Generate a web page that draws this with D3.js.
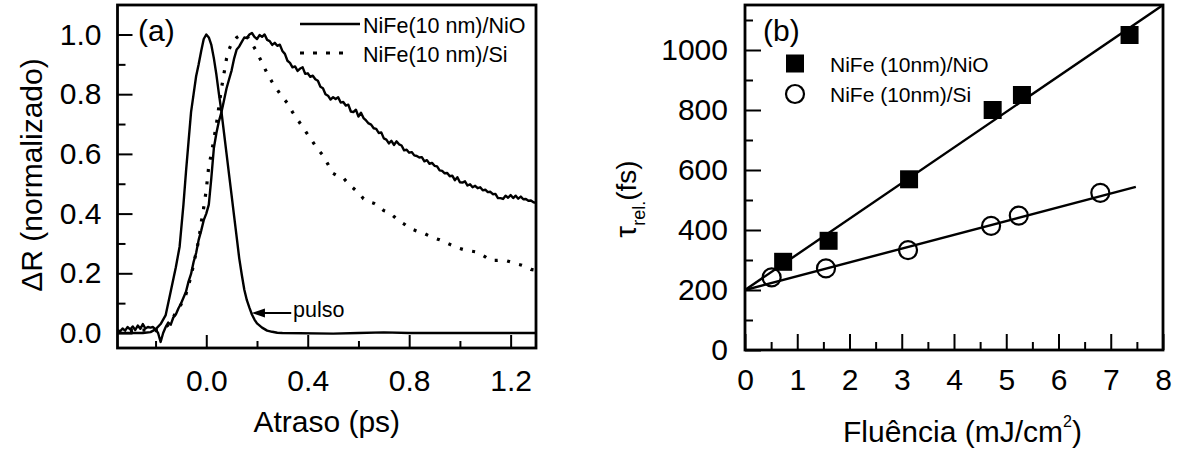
<!DOCTYPE html>
<html><head><meta charset="utf-8">
<script src="https://cdn.jsdelivr.net/npm/d3@7"></script>
<style>body{margin:0;background:#fff}svg{display:block}text{font-family:"Liberation Sans",Arial,Helvetica,sans-serif;fill:#000}</style>
</head><body><svg id="c" width="1186" height="453"></svg>
<script>
// ---------- Panel (a) data: delay (ps), normalized ΔR ----------
const nioCurve = [[-0.35,0.010],[-0.34,0.005],[-0.33,0.015],[-0.32,0.008],[-0.31,0.020],[-0.30,0.012],[-0.29,0.022],[-0.28,0.010],[-0.27,0.025],[-0.26,0.014],[-0.25,0.030],[-0.24,0.015],[-0.23,0.020],[-0.22,0.018],[-0.21,0.020],[-0.20,0.012],[-0.19,0.000],[-0.18,-0.030],[-0.17,0.000],[-0.16,0.020],[-0.15,0.035],[-0.14,0.028],[-0.13,0.052],[-0.12,0.062],[-0.11,0.082],[-0.10,0.098],[-0.09,0.118],[-0.08,0.138],[-0.07,0.172],[-0.06,0.198],[-0.05,0.238],[-0.04,0.268],[-0.03,0.312],[-0.02,0.343],[-0.01,0.378],[0.00,0.400],[0.01,0.430],[0.02,0.520],[0.03,0.620],[0.04,0.670],[0.05,0.710],[0.06,0.740],[0.07,0.780],[0.08,0.820],[0.09,0.850],[0.10,0.880],[0.11,0.920],[0.12,0.950],[0.13,0.960],[0.14,0.975],[0.15,0.990],[0.16,0.988],[0.17,1.000],[0.18,1.005],[0.19,0.992],[0.20,0.985],[0.21,0.998],[0.22,0.992],[0.23,1.000],[0.24,0.982],[0.25,0.978],[0.26,0.965],[0.27,0.972],[0.28,0.962],[0.29,0.966],[0.30,0.945],[0.31,0.935],[0.32,0.912],[0.33,0.905],[0.34,0.890],[0.35,0.893],[0.36,0.878],[0.37,0.886],[0.38,0.890],[0.39,0.868],[0.40,0.870],[0.41,0.858],[0.42,0.862],[0.43,0.850],[0.44,0.845],[0.45,0.825],[0.46,0.820],[0.47,0.800],[0.48,0.795],[0.49,0.782],[0.50,0.790],[0.51,0.784],[0.52,0.790],[0.53,0.772],[0.54,0.774],[0.55,0.762],[0.56,0.765],[0.57,0.742],[0.58,0.740],[0.59,0.748],[0.60,0.725],[0.61,0.738],[0.62,0.720],[0.63,0.712],[0.64,0.702],[0.65,0.698],[0.66,0.686],[0.67,0.684],[0.68,0.670],[0.69,0.672],[0.70,0.652],[0.71,0.648],[0.72,0.635],[0.73,0.644],[0.74,0.630],[0.75,0.642],[0.76,0.632],[0.77,0.628],[0.78,0.612],[0.79,0.614],[0.80,0.604],[0.81,0.606],[0.82,0.595],[0.83,0.593],[0.84,0.588],[0.85,0.589],[0.86,0.575],[0.87,0.579],[0.88,0.567],[0.89,0.570],[0.90,0.560],[0.91,0.558],[0.92,0.545],[0.93,0.543],[0.94,0.535],[0.95,0.536],[0.96,0.525],[0.97,0.527],[0.98,0.512],[0.99,0.522],[1.00,0.505],[1.01,0.504],[1.02,0.508],[1.03,0.494],[1.04,0.498],[1.05,0.488],[1.06,0.493],[1.07,0.485],[1.08,0.488],[1.09,0.478],[1.10,0.480],[1.11,0.472],[1.12,0.473],[1.13,0.465],[1.14,0.466],[1.15,0.452],[1.16,0.452],[1.17,0.449],[1.18,0.460],[1.19,0.453],[1.20,0.462],[1.21,0.452],[1.22,0.460],[1.23,0.450],[1.24,0.457],[1.25,0.448],[1.26,0.449],[1.27,0.443],[1.28,0.444],[1.29,0.438],[1.30,0.436]];
const siCurve = [[-0.35,0.005],[-0.30,0.008],[-0.25,0.010],[-0.20,0.008],[-0.18,0.010],[-0.16,0.020],[-0.14,0.035],[-0.12,0.070],[-0.10,0.095],[-0.08,0.130],[-0.06,0.190],[-0.04,0.270],[-0.03,0.310],[-0.02,0.370],[-0.01,0.420],[0.00,0.480],[0.01,0.560],[0.02,0.600],[0.03,0.650],[0.04,0.700],[0.05,0.760],[0.06,0.820],[0.07,0.870],[0.08,0.920],[0.09,0.950],[0.10,0.970],[0.12,0.990],[0.14,1.000],[0.16,0.995],[0.18,0.970],[0.20,0.940],[0.22,0.905],[0.24,0.870],[0.26,0.840],[0.28,0.815],[0.30,0.790],[0.32,0.770],[0.34,0.740],[0.36,0.715],[0.38,0.690],[0.40,0.665],[0.42,0.640],[0.44,0.615],[0.46,0.595],[0.48,0.565],[0.50,0.535],[0.52,0.525],[0.54,0.520],[0.56,0.500],[0.58,0.485],[0.60,0.470],[0.62,0.450],[0.64,0.440],[0.66,0.435],[0.68,0.425],[0.70,0.410],[0.72,0.404],[0.74,0.390],[0.76,0.375],[0.78,0.365],[0.80,0.352],[0.82,0.345],[0.84,0.338],[0.86,0.333],[0.88,0.325],[0.90,0.318],[0.92,0.312],[0.94,0.305],[0.96,0.297],[0.98,0.290],[1.00,0.283],[1.02,0.278],[1.04,0.275],[1.06,0.272],[1.08,0.265],[1.10,0.255],[1.12,0.243],[1.14,0.243],[1.16,0.244],[1.18,0.243],[1.20,0.238],[1.22,0.232],[1.24,0.228],[1.26,0.222],[1.28,0.213],[1.30,0.210]];
const pulseCurve = [[-0.35,0.000],[-0.25,0.000],[-0.22,0.003],[-0.20,0.012],[-0.18,0.030],[-0.16,0.060],[-0.14,0.140],[-0.12,0.220],[-0.105,0.290],[-0.09,0.430],[-0.08,0.540],[-0.07,0.640],[-0.06,0.740],[-0.05,0.800],[-0.04,0.860],[-0.03,0.900],[-0.02,0.945],[-0.01,0.985],[0.00,1.000],[0.01,0.990],[0.02,0.965],[0.03,0.920],[0.04,0.865],[0.05,0.800],[0.06,0.740],[0.07,0.670],[0.08,0.600],[0.09,0.530],[0.10,0.460],[0.11,0.390],[0.12,0.320],[0.13,0.250],[0.14,0.195],[0.15,0.145],[0.16,0.110],[0.17,0.085],[0.18,0.062],[0.19,0.045],[0.20,0.032],[0.22,0.018],[0.24,0.008],[0.26,0.004],[0.28,0.001],[0.30,0.000],[0.50,-0.002],[0.60,0.000],[0.70,0.002],[0.80,0.000],[1.00,0.000],[1.30,0.000]];
const aXMajor = [0.0, 0.4, 0.8, 1.2];
const aXMinor = [-0.2, 0.2, 0.6, 1.0];
const aYMajor = [0.0, 0.2, 0.4, 0.6, 0.8, 1.0];
const aYMinor = [0.1, 0.3, 0.5, 0.7, 0.9];
const aLegend = ["NiFe(10 nm)/NiO", "NiFe(10 nm)/Si"];
const pulseLabel = "pulso";
const pulseArrow = {tipT: 0.18, tipV: 0.067, tailT: 0.335, textT: 0.342, textV: 0.053};

// ---------- Panel (b) data: fluence (mJ/cm²), τ (fs) ----------
const nioFluence = [0.73, 1.60, 3.14, 4.74, 5.30, 7.36];
const nioTau     = [294, 364, 569, 800, 850, 1050];
const siFluence  = [0.51, 1.55, 3.12, 4.71, 5.24, 6.80];
const siTau      = [242, 272, 333, 414, 448, 524];
const nioFit = [[0, 200], [8, 1150]];
const siFit  = [[0, 200], [7.48, 544]];
const bXMajor = [0, 1, 2, 3, 4, 5, 6, 7, 8];
const bXMinor = [0.5, 1.5, 2.5, 3.5, 4.5, 5.5, 6.5, 7.5];
const bYMajor = [0, 200, 400, 600, 800, 1000];
const bYMinor = [100, 300, 500, 700, 900, 1100];
const bLegend = ["NiFe (10nm)/NiO", "NiFe (10nm)/Si"];

const svg = d3.select("#c");
const FF = '"Liberation Sans",Arial,Helvetica,sans-serif';

// ================= Panel (a) =================
const A = {l:117.5, r:536, t:5, b:348};
const xA = d3.scaleLinear().domain([-0.35, 1.3]).range([A.l, A.r]);
const yA = d3.scaleLinear().domain([-0.05025, 1.0988]).range([A.b, A.t]);
const gA = svg.append("g");
gA.append("clipPath").attr("id","clipA").append("rect")
  .attr("x",A.l).attr("y",A.t).attr("width",A.r-A.l).attr("height",A.b-A.t);

function styleAxis(g, fs){
  g.select(".domain").remove();
  g.selectAll(".tick line").attr("stroke","#000").attr("stroke-width",2);
  g.selectAll(".tick text").attr("font-size",fs).attr("font-family",FF).attr("fill","#000");
}
gA.append("g").attr("transform",`translate(0,${A.b})`)
  .call(d3.axisBottom(xA).tickValues(aXMajor).tickSize(-13).tickPadding(22).tickFormat(d3.format(".1f")))
  .call(g=>styleAxis(g,30));
gA.append("g").attr("transform",`translate(0,${A.b})`)
  .call(d3.axisBottom(xA).tickValues(aXMinor).tickSize(-7).tickFormat(""))
  .call(g=>styleAxis(g,30));
gA.append("g").attr("transform",`translate(${A.l},0)`)
  .call(d3.axisLeft(yA).tickValues(aYMajor).tickSize(-15).tickPadding(16).tickFormat(d3.format(".1f")))
  .call(g=>styleAxis(g,30));
gA.append("g").attr("transform",`translate(${A.l},0)`)
  .call(d3.axisLeft(yA).tickValues(aYMinor).tickSize(-8).tickFormat(""))
  .call(g=>styleAxis(g,30));

const lineA = d3.line().x(d=>xA(d[0])).y(d=>yA(d[1]));
const curves = gA.append("g").attr("clip-path","url(#clipA)");
curves.append("path").datum(pulseCurve).attr("d",lineA).attr("fill","none").attr("stroke","#000").attr("stroke-width",2.4).attr("stroke-linejoin","round");
curves.append("path").datum(siCurve).attr("d",lineA).attr("fill","none").attr("stroke","#000").attr("stroke-width",3.2).attr("stroke-dasharray","3,9.5");
curves.append("path").datum(nioCurve).attr("d",lineA).attr("fill","none").attr("stroke","#000").attr("stroke-width",2.4).attr("stroke-linejoin","round");

gA.append("rect").attr("x",A.l).attr("y",A.t).attr("width",A.r-A.l).attr("height",A.b-A.t)
  .attr("fill","none").attr("stroke","#000").attr("stroke-width",2.8);

gA.append("text").attr("x",138).attr("y",41).attr("font-size",30).text("(a)");
// legend (a)
gA.append("line").attr("x1",300).attr("x2",360).attr("y1",24).attr("y2",24).attr("stroke","#000").attr("stroke-width",2.4);
gA.append("text").attr("x",363).attr("y",33).attr("font-size",21.5).text(aLegend[0]);
gA.append("line").attr("x1",300).attr("x2",352).attr("y1",53).attr("y2",53).attr("stroke","#000").attr("stroke-width",3.2).attr("stroke-dasharray","4,9");
gA.append("text").attr("x",363).attr("y",62).attr("font-size",21.5).text(aLegend[1]);
// pulse annotation
const tipX = xA(pulseArrow.tipT), tipY = yA(pulseArrow.tipV);
gA.append("line").attr("x1",tipX+10).attr("x2",xA(pulseArrow.tailT)).attr("y1",tipY).attr("y2",tipY).attr("stroke","#000").attr("stroke-width",2);
gA.append("path").attr("d",`M${tipX},${tipY} L${tipX+13},${tipY-4.5} L${tipX+13},${tipY+4.5} Z`).attr("fill","#000");
gA.append("text").attr("x",xA(pulseArrow.textT)).attr("y",yA(pulseArrow.textV)).attr("font-size",21.5).text(pulseLabel);
// titles (a)
gA.append("text").attr("x",(A.l+A.r)/2).attr("y",432).attr("text-anchor","middle").attr("font-size",30).text("Atraso (ps)");
gA.append("text").attr("transform","translate(42,175) rotate(-90)").attr("text-anchor","middle").attr("font-size",30).text("ΔR (normalizado)");

// ================= Panel (b) =================
const B = {l:745, r:1163, t:5, b:350};
const xB = d3.scaleLinear().domain([0, 8]).range([B.l, B.r]);
const yB = d3.scaleLinear().domain([0, 1150]).range([B.b, B.t]);
const gB = svg.append("g");
gB.append("clipPath").attr("id","clipB").append("rect")
  .attr("x",B.l).attr("y",B.t).attr("width",B.r-B.l).attr("height",B.b-B.t);

gB.append("g").attr("transform",`translate(0,${B.b})`)
  .call(d3.axisBottom(xB).tickValues(bXMajor).tickSize(-16).tickPadding(19).tickFormat(d3.format("d")))
  .call(g=>styleAxis(g,30));
gB.append("g").attr("transform",`translate(0,${B.b})`)
  .call(d3.axisBottom(xB).tickValues(bXMinor).tickSize(-8).tickFormat(""))
  .call(g=>styleAxis(g,30));
gB.append("g").attr("transform",`translate(${B.l},0)`)
  .call(d3.axisLeft(yB).tickValues(bYMajor).tickSize(-16).tickPadding(17).tickFormat(d3.format("d")))
  .call(g=>styleAxis(g,30));
gB.append("g").attr("transform",`translate(${B.l},0)`)
  .call(d3.axisLeft(yB).tickValues(bYMinor).tickSize(-8).tickFormat(""))
  .call(g=>styleAxis(g,30));

const lineB = d3.line().x(d=>xB(d[0])).y(d=>yB(d[1]));
const fits = gB.append("g").attr("clip-path","url(#clipB)");
fits.append("path").datum(nioFit).attr("d",lineB).attr("fill","none").attr("stroke","#000").attr("stroke-width",2.4);
fits.append("path").datum(siFit).attr("d",lineB).attr("fill","none").attr("stroke","#000").attr("stroke-width",2.4);

const SQ = 18;
gB.append("g").selectAll("circle").data(d3.zip(siFluence, siTau)).join("circle")
  .attr("cx",d=>xB(d[0])).attr("cy",d=>yB(d[1])).attr("r",9)
  .attr("fill","none").attr("stroke","#000").attr("stroke-width",2.2);
gB.append("g").selectAll("rect").data(d3.zip(nioFluence, nioTau)).join("rect")
  .attr("x",d=>xB(d[0])-SQ/2).attr("y",d=>yB(d[1])-SQ/2).attr("width",SQ).attr("height",SQ).attr("fill","#000");

gB.append("rect").attr("x",B.l).attr("y",B.t).attr("width",B.r-B.l).attr("height",B.b-B.t)
  .attr("fill","none").attr("stroke","#000").attr("stroke-width",2.8);

gB.append("text").attr("x",763).attr("y",41).attr("font-size",30).text("(b)");
// legend (b)
gB.append("rect").attr("x",795-SQ/2).attr("y",63.5-SQ/2).attr("width",SQ).attr("height",SQ).attr("fill","#000");
gB.append("text").attr("x",830).attr("y",72).attr("font-size",21).text(bLegend[0]);
gB.append("circle").attr("cx",795).attr("cy",94).attr("r",9).attr("fill","none").attr("stroke","#000").attr("stroke-width",2.2);
gB.append("text").attr("x",830).attr("y",101.5).attr("font-size",21).text(bLegend[1]);
// titles (b)
const xt = gB.append("text").attr("x",843).attr("y",441.5).attr("font-size",30);
xt.append("tspan").text("Fluência (mJ/cm");
xt.append("tspan").attr("font-size",16).attr("dy",-15).text("2");
xt.append("tspan").attr("dy",15).text(")");
const yt = gB.append("text").attr("transform","translate(636,199) rotate(-90)").attr("text-anchor","middle").attr("font-size",28);
yt.append("tspan").attr("font-size",30).text("τ");
yt.append("tspan").attr("font-size",18).attr("dy",9).text("rel.");
yt.append("tspan").attr("dy",-9).text("(fs)");
</script></body></html>
